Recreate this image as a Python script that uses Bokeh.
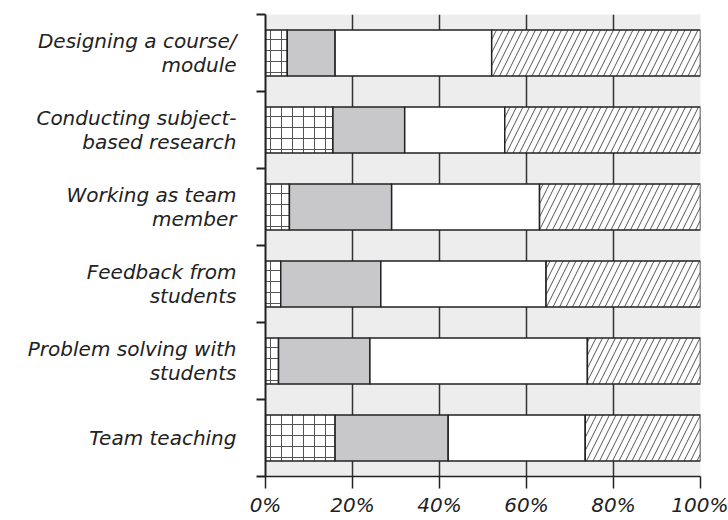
import numpy as np
from bokeh.plotting import figure
from bokeh.models import FixedTicker, PrintfTickFormatter, Range1d
from bokeh.embed import file_html
from bokeh.resources import INLINE

categories = [
    "Designing a course/\nmodule",
    "Conducting subject-\nbased research",
    "Working as team\nmember",
    "Feedback from\nstudents",
    "Problem solving with\nstudents",
    "Team teaching",
]
crosshatch_vals = [5, 15.5, 5.5, 3.5, 3, 16]
gray_vals = [11, 16.5, 23.5, 23, 21, 26]
white_vals = [36, 23, 34, 38, 50, 31.5]
diagonal_vals = [48, 45, 37, 35.5, 26, 26.5]
x_ticks = [0, 20, 40, 60, 80, 100]
grid_ticks = [20, 40, 60, 80]

n = len(categories)
y = np.arange(n)[::-1] + 0.5

p = figure(width=728, height=520, output_backend="svg", toolbar_location=None,
           x_range=Range1d(0, 100), y_range=Range1d(0, n),
           min_border_left=265, min_border_right=28, min_border_top=14,
           min_border_bottom=44)

styles = [
    (crosshatch_vals, dict(fill_color="white", hatch_pattern="+", hatch_scale=11,
                           hatch_color="#555555", hatch_weight=1)),
    (gray_vals, dict(fill_color="#c8c8ca")),
    (white_vals, dict(fill_color="white")),
    (diagonal_vals, dict(fill_color="white", hatch_pattern="/", hatch_scale=13,
                         hatch_color="#555555", hatch_weight=1)),
]
left = np.zeros(n)
for vals, st in styles:
    right = left + np.array(vals, dtype=float)
    p.hbar(y=y, left=left, right=right, height=0.6, line_color="#222222",
           line_width=1.5, **st)
    left = right

p.background_fill_color = "#ededed"
p.border_fill_color = "white"
p.outline_line_color = None

p.xgrid.ticker = FixedTicker(ticks=grid_ticks)
p.xgrid.grid_line_color = "#333333"
p.xgrid.grid_line_width = 1.5
p.ygrid.visible = False

xa = p.xaxis[0]
xa.ticker = FixedTicker(ticks=x_ticks)
xa.formatter = PrintfTickFormatter(format="%d%%")
xa.major_tick_out = 12
xa.major_tick_in = 0
xa.major_tick_line_width = 1.5
xa.major_tick_line_color = "#222222"
xa.axis_line_width = 1.5
xa.axis_line_color = "#222222"
xa.major_label_standoff = 4
xa.major_label_text_font = "DejaVu Sans"
xa.major_label_text_font_style = "italic"
xa.major_label_text_font_size = "20px"
xa.major_label_text_color = "#222222"

ya = p.yaxis[0]
ya.ticker = FixedTicker(ticks=list(y), minor_ticks=list(range(n + 1)))
ya.major_label_overrides = {float(v): c for v, c in zip(y, categories)}
ya.major_tick_out = 0
ya.major_tick_in = 0
ya.minor_tick_out = 9
ya.minor_tick_in = 0
ya.minor_tick_line_width = 2
ya.minor_tick_line_color = "#222222"
ya.axis_line_width = 2
ya.axis_line_color = "#222222"
ya.major_label_standoff = 20
ya.major_label_text_align = "right"
ya.major_label_text_font = "DejaVu Sans"
ya.major_label_text_font_style = "italic"
ya.major_label_text_font_size = "20px"
ya.major_label_text_line_height = 1.0
ya.major_label_text_color = "#222222"

open("out.html", "w").write(file_html(p, INLINE))
